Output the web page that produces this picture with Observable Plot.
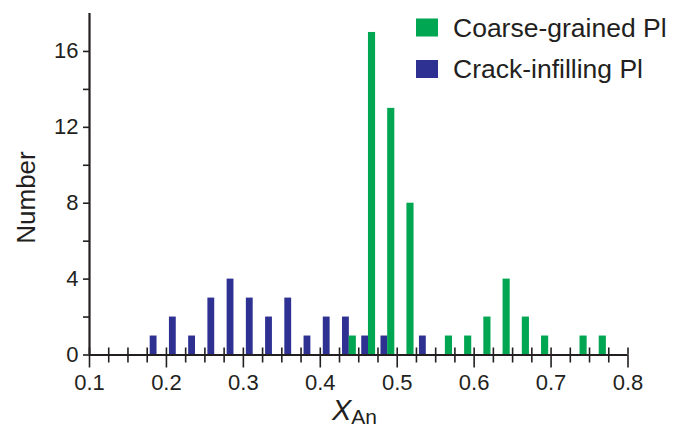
<!DOCTYPE html>
<html>
<head>
<meta charset="utf-8">
<script src="https://cdn.jsdelivr.net/npm/d3@7"></script>
<script src="https://cdn.jsdelivr.net/npm/@observablehq/plot@0.6"></script>
<style>
  html, body { margin: 0; padding: 0; background: #fff; }
  #chart { width: 673px; height: 434px; position: relative; }
</style>
</head>
<body>
<div id="chart"></div>
<script>
// Bin lower edges (bin width 0.025)
const binStarts = [0.175, 0.2, 0.225, 0.25, 0.275, 0.3, 0.325, 0.35, 0.375, 0.4, 0.425, 0.45, 0.475, 0.5, 0.525, 0.55, 0.575, 0.6, 0.625, 0.65, 0.675, 0.7, 0.725, 0.75];
const binWidth = 0.025;
// Crack-infilling Pl counts per bin
const crackCounts = [1, 2, 1, 3, 4, 3, 2, 3, 1, 2, 2, 1, 1, 0, 1, 0, 0, 0, 0, 0, 0, 0, 0, 0];
// Coarse-grained Pl counts per bin
const coarseCounts = [0, 0, 0, 0, 0, 0, 0, 0, 0, 0, 1, 17, 13, 8, 0, 1, 1, 2, 4, 2, 1, 0, 1, 1];
const seriesNames = ["Coarse-grained Pl", "Crack-infilling Pl"];
const seriesColors = ["#00a651", "#2e3192"];
const xMajorTicks = [0.1, 0.2, 0.3, 0.4, 0.5, 0.6, 0.7, 0.8];
const xMinorTicks = d3.range(0.1, 0.8001, 0.025).map(v => +v.toFixed(3)).filter(v => !xMajorTicks.some(m => Math.abs(m - v) < 1e-6));
const yMajorTicks = [0, 4, 8, 12, 16];
const yMinorTicks = [2, 6, 10, 14];

const crackRows = binStarts.map((b, i) => ({x1: b, x2: b + binWidth, count: crackCounts[i]})).filter(d => d.count > 0);
const coarseRows = binStarts.map((b, i) => ({x1: b, x2: b + binWidth, count: coarseCounts[i]})).filter(d => d.count > 0);

const ink = "#231f20";
const font = "'Liberation Sans', Arial, Helvetica, sans-serif";

const plot = Plot.plot({
  width: 673,
  height: 434,
  marginLeft: 89,
  marginRight: 45.5,
  marginTop: 13,
  marginBottom: 79.5,
  style: {fontFamily: font, fontSize: "22px", background: "#fff", color: ink},
  x: {domain: [0.1, 0.8]},
  y: {domain: [0, 18]},
  marks: [
    Plot.rectY(crackRows, {x1: "x1", x2: "x2", y: "count", fill: seriesColors[1], insetLeft: 3, insetRight: 9.4}),
    Plot.rectY(coarseRows, {x1: "x1", x2: "x2", y: "count", fill: seriesColors[0], insetLeft: 9.7, insetRight: 2.4}),
    // x axis: ticks crossing the axis line
    Plot.axisX({ticks: xMajorTicks, tickSize: 13, tickPadding: 6, tickFormat: d3.format(".1f"), fontSize: 22, stroke: ink, strokeWidth: 1.6, fill: ink, label: null}),
    Plot.axisX({ticks: xMinorTicks, tickSize: 8, tickFormat: () => "", stroke: ink, strokeWidth: 1.6, label: null}),
    Plot.ruleX(xMajorTicks.concat(xMinorTicks), {x: d => d, y1: 0, y2: 0.37, stroke: ink, strokeWidth: 1.6}),
    // y axis
    Plot.axisY({ticks: yMajorTicks, tickSize: 6, tickPadding: 5, fontSize: 22, stroke: ink, strokeWidth: 1.6, fill: ink, label: null}),
    Plot.axisY({ticks: yMinorTicks, tickSize: 6, tickFormat: () => "", stroke: ink, strokeWidth: 1.6, label: null}),
    Plot.ruleY([0], {stroke: ink, strokeWidth: 2.2}),
    Plot.ruleX([0.1], {stroke: ink, strokeWidth: 2.2})
  ]
});

const svg = d3.select(plot);
// make sure tick labels use the intended size
svg.selectAll("[aria-label='x-axis tick label'], [aria-label='y-axis tick label']")
  .attr("font-size", 22)
  .selectAll("text").attr("font-size", 22);

// Y-axis title
svg.append("text")
  .attr("transform", "translate(35,197.5) rotate(-90)")
  .attr("text-anchor", "middle")
  .attr("font-family", font)
  .attr("font-size", 26)
  .attr("fill", ink)
  .text("Number");
// X-axis title: X with subscript An
const xt = svg.append("text")
  .attr("x", 332)
  .attr("y", 420)
  .attr("text-anchor", "start")
  .attr("font-family", font)
  .attr("fill", ink);
xt.append("tspan").attr("font-size", 29).attr("font-style", "italic").text("X");
xt.append("tspan").attr("font-size", 21).attr("dy", 4).text("An");

// Legend
const legend = svg.append("g").attr("text-anchor", "start");
seriesNames.forEach((name, i) => {
  const y0 = 18.5 + i * 41.5;
  legend.append("rect").attr("x", 416).attr("y", y0).attr("width", 22).attr("height", 18).attr("fill", seriesColors[i]);
  legend.append("text").attr("x", 453).attr("y", y0 + 18.2)
    .attr("text-anchor", "start")
    .attr("font-family", font).attr("font-size", 26.5).attr("fill", ink).text(name);
});

document.getElementById("chart").appendChild(plot);
</script>
</body>
</html>
